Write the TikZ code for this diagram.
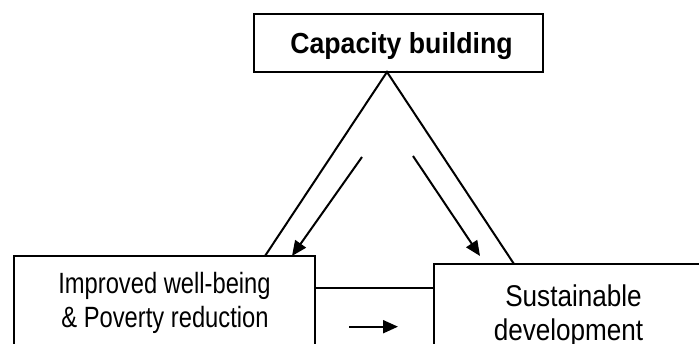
\documentclass[tikz,border=0pt]{standalone}
\usepackage{fontspec}
\setmainfont{Liberation Sans}
\newfontfamily\capfont[FakeStretch=0.92]{Liberation Sans}
\newfontfamily\impfont[FakeStretch=0.81]{Liberation Sans}
\newfontfamily\susfont[FakeStretch=0.87]{Liberation Sans}
\usetikzlibrary{arrows.meta}
\begin{document}
\begin{tikzpicture}[x=1pt,y=-1pt,line width=2pt,
  box/.style={draw,line width=2pt,inner sep=0pt,outer sep=0pt},
  tip/.style={-{Triangle[length=15pt,width=13pt]}},
  txt/.style={inner sep=0pt,anchor=base},
  captext/.style={font=\capfont\bfseries\fontsize{29}{34}\selectfont},
  imptext/.style={font=\impfont\fontsize{29.3}{34}\selectfont},
  sustext/.style={font=\susfont\fontsize{30}{34}\selectfont}]
\useasboundingbox (0,0) rectangle (699,344);
\clip (0,0) rectangle (699,344);
% boxes
\node[box,minimum width=289pt,minimum height=58pt,anchor=north west] (cap) at (254,14) {};
\node[box,minimum width=301pt,minimum height=110pt,anchor=north west] (imp) at (14,256) {};
\node[box,minimum width=280pt,minimum height=110pt,anchor=north west] (sus) at (434,264) {};
% texts
\node[txt,captext] (captxt) at (401.5,53.3) {Capacity building};
\node[txt,imptext] (imp1) at (164.5,294) {Improved well-being};
\node[txt,imptext] (imp2) at (165,328) {\& Poverty reduction};
\node[txt,sustext] (sus1) at (573.5,306.7) {Sustainable};
\node[txt,sustext] (sus2) at (568.5,341) {development};
% triangle
\coordinate (apex) at (387,72);
\coordinate (lfoot) at (265,256);
\coordinate (rfoot) at (514,264);
\draw (lfoot) -- (apex) -- (rfoot);
% horizontal connector
\coordinate (hy) at (0,288.5);
\draw (imp.north east |- hy) -- (sus.north west |- hy);
% arrows
\coordinate (a1s) at (362,157);
\coordinate (a1e) at (292,256);
\coordinate (a2s) at (413,156);
\coordinate (a2e) at (480,256);
\coordinate (a3s) at (349,326.7);
\coordinate (a3e) at (398,326.7);
\draw[tip] (a1s) -- (a1e);
\draw[tip] (a2s) -- (a2e);
\draw[tip] (a3s) -- (a3e);
\end{tikzpicture}
\end{document}
